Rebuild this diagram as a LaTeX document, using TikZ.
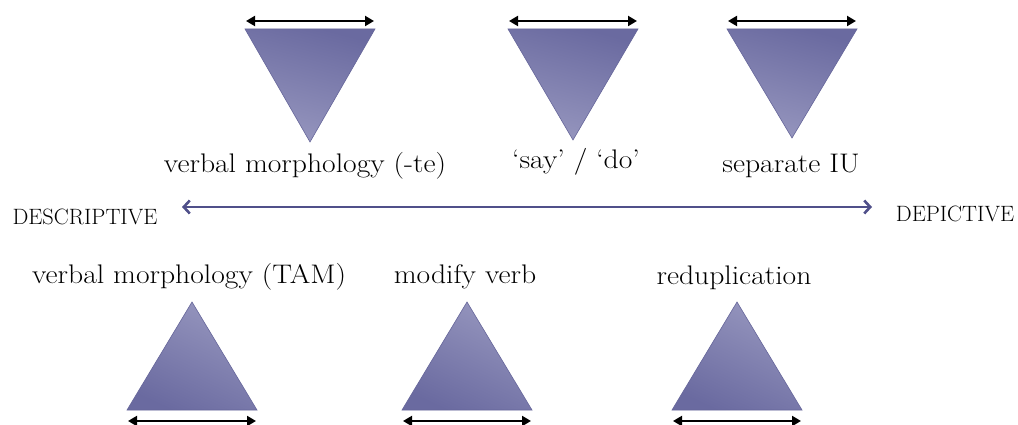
\documentclass[tikz,border=0pt]{standalone}
\usepackage{graphicx}
\usetikzlibrary{arrows.meta}
\definecolor{triedge}{HTML}{66669A}
\definecolor{tridark}{HTML}{6A6AA0}
\definecolor{trilight}{HTML}{9696BE}
\definecolor{axiscol}{HTML}{50508A}
% wide settings for the captions and for the two poles
\newcommand\wcap[1]{\scalebox{1.19}[1.08]{#1}}
\newcommand\polename[1]{\scalebox{1.08}[1.07]{#1}}
\tikzset{
  x=1pt, y=-1pt,
  label/.style={anchor=base, inner sep=0pt, font=\fontsize{24.88}{30}\selectfont},
  pole/.style={anchor=base, inner sep=0pt, font=\fontsize{20.74}{24}\selectfont},
  downtri/.style={draw=triedge, line width=0.6pt, shading=axis,
    top color=tridark, bottom color=trilight, shading angle=-15},
  uptri/.style={draw=triedge, line width=0.6pt, shading=axis,
    top color=trilight, bottom color=tridark, shading angle=-25},
  span/.style={black, line width=2pt, {Triangle[length=9pt,width=10pt]}-{Triangle[length=9pt,width=10pt]}},
  axis/.style={axiscol, line width=2.6pt, {Straight Barb[length=6pt,width=13pt]}-{Straight Barb[length=6pt,width=13pt]}}
}
\begin{document}
\begin{tikzpicture}
\useasboundingbox (0,0) rectangle (1018,425);

% inverted triangles along the top, each with its width arrow
\foreach \n/\cx/\ay in {a/310/142, b/573/140, c/792/138}{
  \coordinate (\n-l) at (\cx-65,29);
  \coordinate (\n-r) at (\cx+65,29);
  \coordinate (\n-t) at (\cx,\ay);
  \coordinate (\n-al) at (\cx-64,21);
  \coordinate (\n-ar) at (\cx+64,21);
  \path[downtri] (\n-l) -- (\n-r) -- (\n-t) -- cycle;
  \draw[span] (\n-al) -- (\n-ar);
}

% upright triangles along the bottom
\foreach \n/\cx in {d/192, e/467, f/737}{
  \coordinate (\n-l) at (\cx-65,410);
  \coordinate (\n-r) at (\cx+65,410);
  \coordinate (\n-t) at (\cx,302);
  \coordinate (\n-al) at (\cx-64,421);
  \coordinate (\n-ar) at (\cx+64,421);
  \path[uptri] (\n-l) -- (\n-r) -- (\n-t) -- cycle;
  \draw[span] (\n-al) -- (\n-ar);
}

% captions
\node[label] (la) at (305,173) {\wcap{verbal morphology (-te)}};
\node[label] (lb) at (576,168) {\wcap{`say' / `do'}};
\node[label] (lc) at (791,173) {\wcap{separate IU}};
\node[label] (ld) at (189,283) {\wcap{verbal morphology (TAM)}};
\node[label] (le) at (465,283) {\wcap{modify verb}};
\node[label] (lf) at (734,284) {\wcap{reduplication}};

% the scale between the two poles
\node[pole] (desc) at (85,224) {\polename{DESCRIPTIVE}};
\node[pole] (depi) at (955,222) {\polename{DEPICTIVE}};
\coordinate (axl) at (182,207);
\coordinate (axr) at (872,207);
\draw[axis] (axl) -- (axr);
\end{tikzpicture}
\end{document}
